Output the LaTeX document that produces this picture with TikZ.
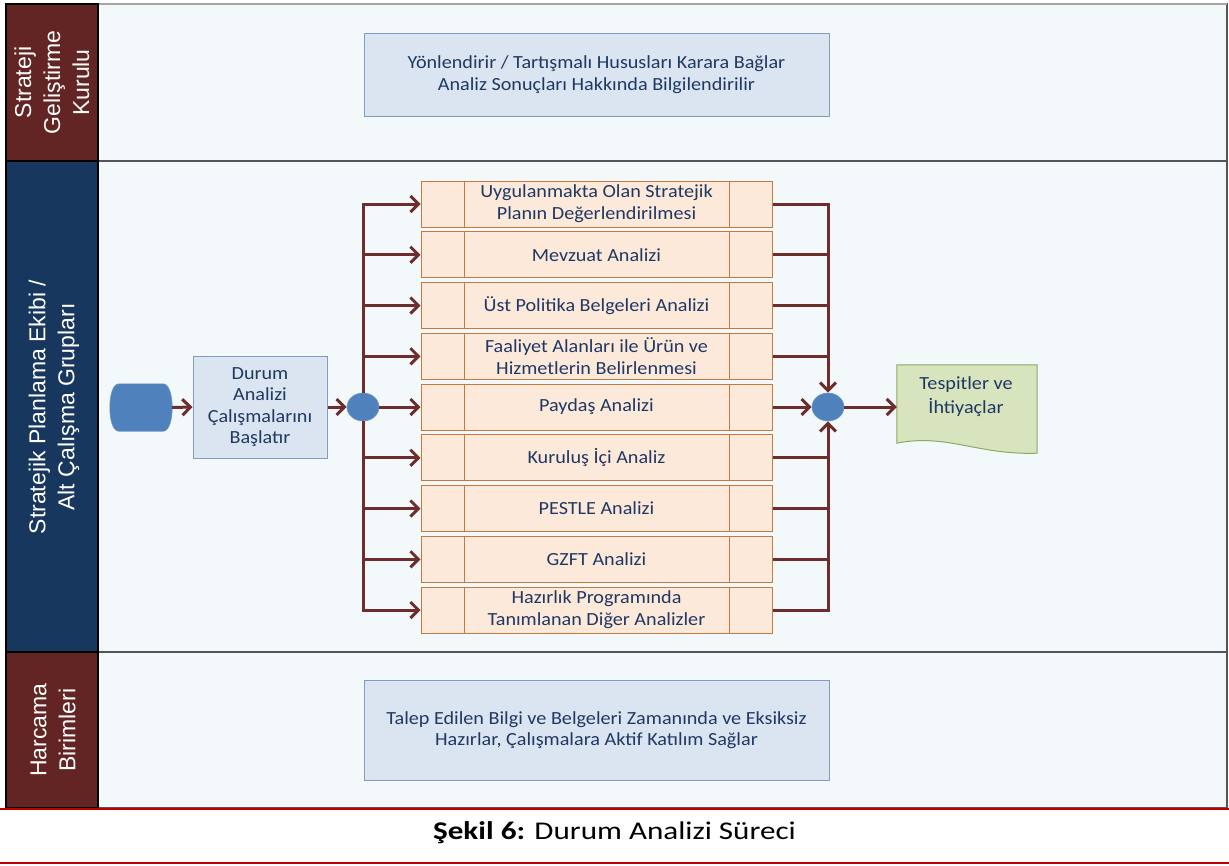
\documentclass[tikz,border=0pt]{standalone}
\usepackage{fontspec}
\setmainfont[FakeStretch=1.09]{Carlito}
\newfontfamily\capfont[FakeStretch=1.22]{Carlito}
\newfontfamily\arialf{Liberation Sans}
\usetikzlibrary{arrows.meta,shapes.geometric}
\definecolor{hdmaroon}{HTML}{632523}
\definecolor{hdnavy}{HTML}{17375E}
\definecolor{lanebg}{HTML}{F3F9FA}
\definecolor{laneline}{HTML}{555555}
\definecolor{bluebox}{HTML}{DBE5F1}
\definecolor{blueedge}{HTML}{7F9BC6}
\definecolor{txtnavy}{HTML}{1F3864}
\definecolor{peach}{HTML}{FDE9D9}
\definecolor{peachedge}{HTML}{C47A3F}
\definecolor{conncol}{HTML}{6E2C2C}
\definecolor{dotblue}{HTML}{4F81BD}
\definecolor{dotedge}{HTML}{6F95C6}
\definecolor{docgreen}{HTML}{D7E4BD}
\definecolor{docedge}{HTML}{8FA862}
\definecolor{capred}{HTML}{C00000}
\tikzset{
  lanebox/.style={fill=lanebg, draw=laneline, line width=1.2pt},
  headbox/.style={draw=black, line width=1.5pt},
  headtext/.style={text=white, align=center, rotate=90, font=\arialf\fontsize{23}{29}\selectfont},
  infobox/.style={draw=blueedge, fill=bluebox, line width=1pt, text=txtnavy, align=center,
    font=\fontsize{18.5}{21.5}\selectfont, inner sep=0pt},
  anbox/.style={draw=peachedge, fill=peach, line width=1pt, text=txtnavy, align=center,
    minimum width=351pt, minimum height=46pt, inner sep=0pt,
    font=\fontsize{18.5}{22}\selectfont},
  dot/.style={ellipse, fill=dotblue, draw=dotedge, line width=0.6pt, minimum width=32pt, minimum height=28pt, inner sep=0pt},
  conn/.style={draw=conncol, line width=3pt},
  arr/.style={conn, -{Straight Barb[length=8pt,width=16pt]}},
}
\begin{document}
\begin{tikzpicture}[x=1pt,y=-1pt]
\useasboundingbox (0,0) rectangle (1229,865);
% lanes
\path[lanebox] (98,4) rectangle (1227,161);
\path[lanebox] (98,161) rectangle (1227,652);
\path[lanebox] (98,652) rectangle (1227,808);
\draw[gray!70, line width=1.5pt] (98,4) -- (1227,4);
% headers
\path[headbox, fill=hdmaroon] (6,4) rectangle (98,161);
\path[headbox, fill=hdnavy] (6,161) rectangle (98,652);
\path[headbox, fill=hdmaroon] (6,652) rectangle (98,808);
\node[headtext] (h1) at (52,82.5) {Strateji\\Geliştirme\\Kurulu};
\node[headtext] (h2) at (54,407) {Stratejik Planlama Ekibi /\\Alt Çalışma Grupları};
\node[headtext] (h3) at (53,730) {Harcama\\Birimleri};
% red rules and caption
\draw[capred, line width=2.5pt] (0,809) -- (1229,809);
\draw[capred, line width=2.5pt] (0,863) -- (1229,863);
\node[anchor=base, font=\capfont\fontsize{25.5}{29}\selectfont] (cap) at (614.5,839) {\textbf{Şekil 6:} Durum Analizi Süreci};
% lane 1 and 3 boxes
\node[infobox, minimum width=465pt, minimum height=83pt] (top) at (596.5,74.5)
  {Yönlendirir / Tartışmalı Hususları Karara Bağlar\\Analiz Sonuçları Hakkında Bilgilendirilir};
\node[infobox, minimum width=465pt, minimum height=100pt] (bot) at (596.5,730)
  {Talep Edilen Bilgi ve Belgeleri Zamanında ve Eksiksiz\\Hazırlar, Çalışmalara Aktif Katılım Sağlar};
% start and durum
\node[minimum width=62pt, minimum height=47pt, inner sep=0pt] (start) at (141,407.5) {};
\draw[fill=dotblue, draw=dotedge, line width=0.6pt]
  ([xshift=9pt]start.north west) -- ([xshift=-9pt]start.north east)
  .. controls ([xshift=3pt]start.north east) and ([xshift=3pt]start.south east) .. ([xshift=-9pt]start.south east)
  -- ([xshift=9pt]start.south west)
  .. controls ([xshift=-3pt]start.south west) and ([xshift=-3pt]start.north west) .. cycle;
\node[infobox, minimum width=134pt, minimum height=102pt] (durum) at (260,407)
  {Durum\\Analizi\\Çalışmalarını\\Başlatır};
\node[dot] (split) at (363,407) {};
\node[dot] (merge) at (828,407) {};
% analysis boxes
\foreach \i/\t in {1/{Uygulanmakta Olan Stratejik\\Planın Değerlendirilmesi},
                   2/{Mevzuat Analizi},
                   3/{Üst Politika Belgeleri Analizi},
                   4/{Faaliyet Alanları ile Ürün ve\\Hizmetlerin Belirlenmesi},
                   5/{Paydaş Analizi},
                   6/{Kuruluş İçi Analiz},
                   7/{PESTLE Analizi},
                   8/{GZFT Analizi},
                   9/{Hazırlık Programında\\Tanımlanan Diğer Analizler}}{
  \node[anbox] (b\i) at (596.5,{204+50.75*(\i-1)}) {\t};
  \draw[peachedge, line width=1pt] ([xshift=44pt]b\i.north west) -- ([xshift=44pt]b\i.south west);
  \draw[peachedge, line width=1pt] ([xshift=-43pt]b\i.north east) -- ([xshift=-43pt]b\i.south east);
}
% document
\node[minimum width=140pt, minimum height=78pt, inner sep=0pt] (doc) at (967,404) {};
\draw[draw=docedge, fill=docgreen, line width=1pt]
  (doc.north west) -- (doc.north east) -- ([yshift=-10pt]doc.south east)
  .. controls ([xshift=-60pt,yshift=-12pt]doc.south east) and ([xshift=50pt,yshift=10pt]doc.south west) .. (doc.south west) -- cycle;
\node[text=txtnavy, align=center, font=\fontsize{18.5}{24}\selectfont] (doctext) at (966,397) {Tespitler ve\\İhtiyaçlar};
% connectors
\draw[arr] (start.east) -- (durum.west);
\draw[arr] (durum.east) -- (split.west);
\foreach \i in {1,2,3,4}{ \draw[arr] (split.north) |- (b\i.west); }
\draw[arr] (split.east) -- (b5.west);
\foreach \i in {6,7,8,9}{ \draw[arr] (split.south) |- (b\i.west); }
\draw[arr] (b1.east) -| (merge.north);
\foreach \i in {2,3,4}{ \draw[conn] (b\i.east) -- (b\i.east -| merge.north); }
\draw[arr] (b5.east) -- (merge.west);
\draw[arr] (b9.east) -| (merge.south);
\foreach \i in {6,7,8}{ \draw[conn] (b\i.east) -- (b\i.east -| merge.south); }
\draw[arr] (merge.east) -- (merge.east -| doc.west);
\end{tikzpicture}
\end{document}
